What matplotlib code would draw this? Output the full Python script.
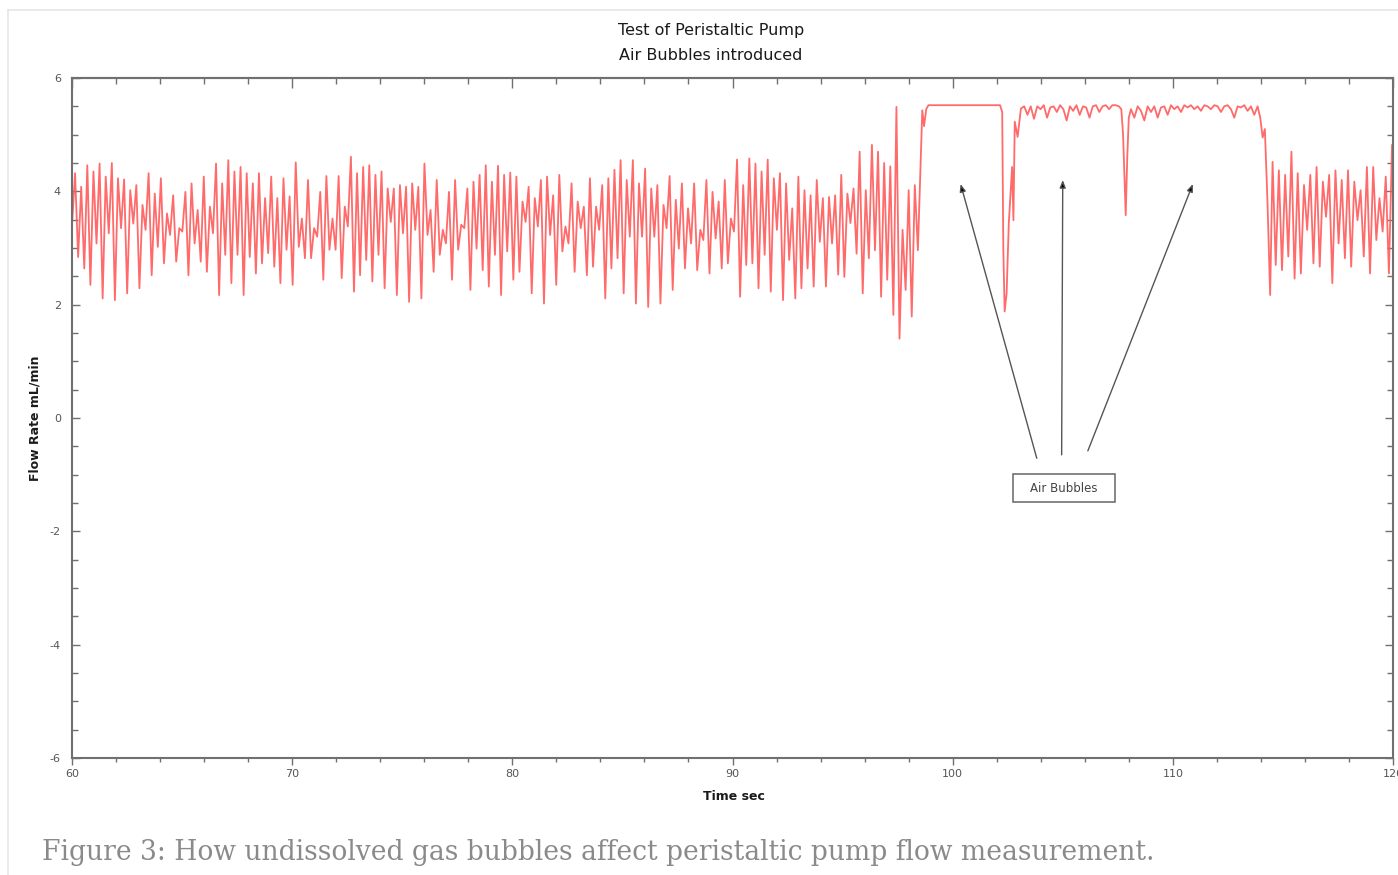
import numpy as np
import matplotlib
matplotlib.use("Agg")
import matplotlib.pyplot as plt
from matplotlib.ticker import MultipleLocator
from matplotlib.lines import Line2D
from matplotlib.patches import Rectangle

plt.rcParams['axes.unicode_minus'] = False

# ---------------- data ----------------
# oscillating flow before the bubbles (extrema, evenly sampled 60 s -> 98.42 s)
osc1_vals = [3.4,
    4.32, 2.84, 4.08, 2.64, 4.46, 2.35, 4.35, 3.08, 4.49, 2.11, 4.26, 3.26, 4.5, 2.08, 4.23, 3.35,
    4.21, 2.2, 4.02, 3.43, 4.11, 2.29, 3.76, 3.32, 4.32, 2.52, 3.96, 3.02, 4.23, 2.73, 3.61, 3.23,
    3.93, 2.76, 3.35, 3.29, 3.99, 2.52, 4.14, 3.08, 3.67, 2.76, 4.26, 2.58, 3.73, 3.26, 4.49, 2.17,
    4.14, 2.88, 4.55, 2.38, 4.35, 2.88, 4.43, 2.17, 4.32, 2.84, 4.14, 2.55, 4.32, 2.73,
    3.88, 2.91, 4.26, 2.67, 3.88, 2.38, 4.23, 2.97, 3.91, 2.35, 4.51, 3.02, 3.52, 2.82, 4.2, 2.82,
    3.35, 3.2, 3.99, 2.44, 4.27, 2.97, 3.52, 2.97, 4.27, 2.47, 3.73, 3.38, 4.61, 2.23, 4.32, 2.52,
    4.43, 2.79, 4.46, 2.41, 4.29, 2.88, 4.35, 2.29, 4.05, 3.46, 4.05, 2.17, 4.11, 3.26, 4.08, 2.05,
    4.14, 3.32, 4.08, 2.11, 4.49, 3.23, 3.67, 2.58, 4.2, 2.88, 3.32, 3.08,
    3.99, 2.44, 4.2, 2.97, 3.41, 3.35, 4.05, 2.26, 4.17, 2.99, 4.29, 2.61, 4.46, 2.32, 4.17, 2.88,
    4.45, 2.17, 4.29, 2.94, 4.33, 2.44, 4.26, 2.58, 3.82, 3.46, 4.08, 2.2, 3.88, 3.38, 4.2, 2.02,
    4.26, 3.23, 3.93, 2.35, 4.29, 2.94, 3.38, 3.08, 4.14, 2.58, 3.82, 3.35, 3.73, 2.52, 4.23, 2.67,
    3.73, 3.32, 4.11, 2.11, 4.23, 2.64, 4.38, 2.82, 4.55, 2.2,
    4.2, 3.2, 4.55, 2.02, 4.14, 3.2, 4.4, 1.96, 4.05, 3.2, 4.11, 2.02, 3.76, 3.35, 4.27, 2.26,
    3.85, 2.99, 4.14, 2.64, 3.7, 3.08, 4.14, 2.61, 3.32, 3.14, 4.2, 2.55, 3.99, 3.17, 3.82, 2.64,
    4.2, 2.73, 3.52, 3.29, 4.56, 2.14, 4.11, 2.7, 4.58, 2.73, 4.49, 2.29, 4.35, 2.88, 4.56, 2.23,
    4.23, 3.32, 4.32, 2.08, 4.14, 2.79, 3.7, 2.11, 4.26, 2.29, 4.02, 2.64, 3.93, 2.32,
    4.2, 3.11, 3.88, 2.32, 3.9, 3.08, 3.93, 2.53, 4.29, 2.49, 3.96, 3.44, 4.05, 2.9, 4.7, 2.2,
    4.02, 2.82, 4.82, 2.96, 4.7, 2.14, 4.5, 2.44, 4.44, 1.82, 5.49, 1.4, 3.32, 2.26, 4.02, 1.79,
    4.11, 2.96]
osc1_span = (60.0, 98.42)

# first bubble: saturation then recovery dip
bubble1_t = [98.55, 98.62, 98.7, 98.8, 98.9, 102.15, 102.25, 102.3, 102.36, 102.45,
             102.55, 102.7, 102.76, 102.82, 102.95]
bubble1_v = [4.6, 5.43, 5.15, 5.45, 5.52, 5.52, 5.4, 3.0, 1.88, 2.2,
             3.44, 4.43, 3.49, 5.23, 4.96]

# second bubble plateau (evenly sampled 103.1 s -> 107.55 s)
plateau2_vals = [5.46, 5.5, 5.35, 5.5, 5.28, 5.5, 5.45, 5.52, 5.3, 5.48, 5.5, 5.4, 5.52, 5.45,
                 5.25, 5.5, 5.42, 5.52, 5.35, 5.5, 5.48, 5.3, 5.5, 5.52, 5.4, 5.5, 5.52, 5.45,
                 5.52, 5.52, 5.5]
plateau2_span = (103.1, 107.55)

dip_t = [107.66, 107.74, 107.8, 107.86, 107.93, 108.0]
dip_v = [5.45, 5.0, 4.3, 3.58, 4.6, 5.3]

# third bubble plateau (evenly sampled 108.1 s -> 113.85 s)
plateau3_vals = [5.45, 5.3, 5.5, 5.42, 5.25, 5.5, 5.4, 5.5, 5.3, 5.48, 5.5, 5.35, 5.52, 5.45,
                 5.5, 5.4, 5.52, 5.48, 5.52, 5.45, 5.5, 5.42, 5.52, 5.5, 5.45, 5.52, 5.5, 5.4,
                 5.5, 5.52, 5.45, 5.3, 5.5, 5.48, 5.52, 5.42, 5.5, 5.35, 5.5]
plateau3_span = (108.1, 113.85)

drop_t = [113.97, 114.08, 114.18, 114.3, 114.42]
drop_v = [5.3, 4.95, 5.1, 3.8, 2.17]

# oscillation after the bubbles (evenly sampled 114.53 s -> 120.1 s)
osc2_vals = [4.52, 2.7, 4.37, 2.61, 4.29, 2.85, 4.7, 2.46, 4.32, 2.55, 4.11, 3.32, 4.29, 2.73,
             4.43, 2.67, 4.17, 3.55, 4.29, 2.38, 4.37, 3.08, 4.2, 2.82, 4.37, 2.67, 4.17, 3.49,
             4.02, 2.85, 4.43, 2.55, 4.43, 3.14, 3.88, 3.29, 4.26, 2.55, 4.82, 2.6]
osc2_span = (114.53, 120.1)

# annotation
note_text = "Air Bubbles"
note_center = (105.05, -1.24)
arrow_heads = [(100.36, 4.13), (105.0, 4.2), (110.91, 4.13)]
arrow_tails = [(103.82, -0.71), (104.95, -0.65), (106.14, -0.58)]

title_lines = ["Test of Peristaltic Pump", "Air Bubbles introduced"]
x_label = "Time sec"
y_label = "Flow Rate mL/min"
caption = "Figure 3: How undissolved gas bubbles affect peristaltic pump flow measurement."

# ---------------- assemble series ----------------
t = np.concatenate([
    np.linspace(*osc1_span, len(osc1_vals)), bubble1_t,
    np.linspace(*plateau2_span, len(plateau2_vals)), dip_t,
    np.linspace(*plateau3_span, len(plateau3_vals)), drop_t,
    np.linspace(*osc2_span, len(osc2_vals))])
v = np.concatenate([osc1_vals, bubble1_v, plateau2_vals, dip_v, plateau3_vals, drop_v, osc2_vals])

# ---------------- figure ----------------
W, H = 1398, 875
fig = plt.figure(figsize=(W / 100, H / 100), dpi=100)
fig.patch.set_facecolor("white")

def fx(px):
    return px / W

def fy(py):
    return 1 - py / H

# outer light frame of the screenshot
fig.add_artist(Line2D([fx(8), fx(8)], [fy(10), fy(875)], color="#e6e6e6", lw=1.2))
fig.add_artist(Line2D([fx(8), 1.0], [fy(10), fy(10)], color="#e6e6e6", lw=1.2))

ax = fig.add_axes([fx(72), fy(758), (1393 - 72) / W, (758 - 78) / H])
ax.plot(t, v, color="#ff5a5a", lw=1.3, alpha=0.9)

ax.set_xlim(60, 120)
ax.set_ylim(-6, 6)
ax.xaxis.set_major_locator(MultipleLocator(10))
ax.xaxis.set_minor_locator(MultipleLocator(2))
ax.yaxis.set_major_locator(MultipleLocator(2))
ax.yaxis.set_minor_locator(MultipleLocator(0.5))

for s in ax.spines.values():
    s.set_color("#707070")
    s.set_linewidth(1.5)

ax.tick_params(axis="x", which="both", direction="out", colors="#707070",
               labelcolor="#555555", labelsize=8, pad=3)
ax.tick_params(axis="x", which="major", length=5, width=1)
ax.tick_params(axis="x", which="minor", length=3, width=1)
ax.tick_params(axis="y", which="both", direction="in", right=True, colors="#707070",
               labelcolor="#555555", labelsize=8, pad=8)
ax.tick_params(axis="y", which="major", length=6, width=1)
ax.tick_params(axis="y", which="minor", length=4, width=1)

top = ax.secondary_xaxis("top")
top.xaxis.set_major_locator(MultipleLocator(10))
top.xaxis.set_minor_locator(MultipleLocator(2))
top.tick_params(which="both", direction="in", colors="#707070", labeltop=False)
top.tick_params(which="major", length=7, width=1)
top.tick_params(which="minor", length=4, width=1)
top.spines["top"].set_color("#707070")
top.spines["top"].set_linewidth(1.5)

# annotation
for head, tail in zip(arrow_heads, arrow_tails):
    ax.annotate("", xy=head, xytext=tail,
                arrowprops=dict(arrowstyle="-|>,head_length=0.45,head_width=0.18",
                                edgecolor="#555555", facecolor="black", lw=1.0,
                                shrinkA=0, shrinkB=0))
ax.add_patch(Rectangle((102.73, -1.48), 4.63, 0.49, facecolor="white",
                       edgecolor="#666666", lw=1.1, zorder=3))
ax.text(note_center[0], note_center[1], note_text, ha="center", va="center",
        fontsize=8.5, color="#444444", zorder=4)

# titles and labels
fig.text(fx(711), fy(31), title_lines[0], ha="center", va="center", fontsize=11.5, color="#1a1a1a")
fig.text(fx(711), fy(55), title_lines[1], ha="center", va="center", fontsize=11.5, color="#1a1a1a")
fig.text(fx(734), fy(797), x_label, ha="center", va="center", fontsize=9, color="#1a1a1a",
         fontweight="semibold")
fig.text(fx(35), fy(418), y_label, ha="center", va="center", rotation=90, fontsize=9,
         color="#1a1a1a", fontweight="semibold")

fig.text(fx(42), fy(852), caption, ha="left", va="center", fontsize=19.1,
         family="DejaVu Serif", color="#8a8a8a")

fig.savefig("out.png", dpi=100)
